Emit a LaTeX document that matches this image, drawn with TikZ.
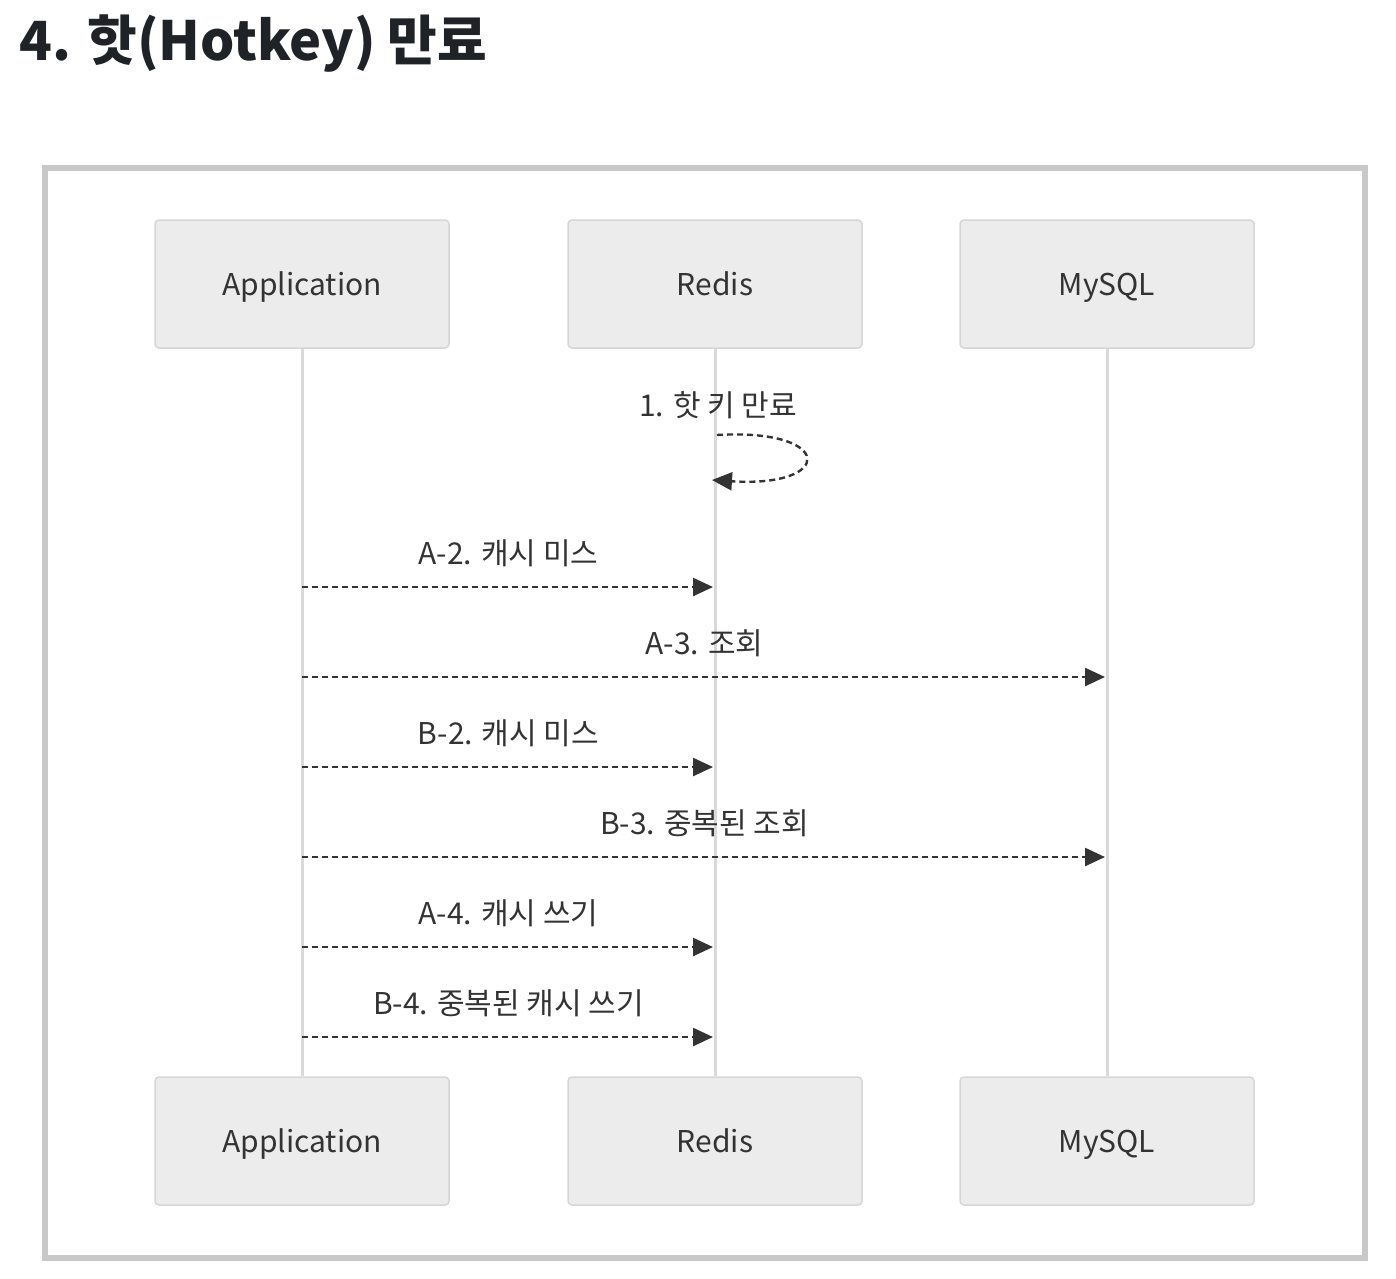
\documentclass[tikz,border=0pt]{standalone}
\usepackage{fontspec}
\setmainfont{Noto Sans CJK KR}
\newfontfamily\cjk{Noto Sans CJK KR}
\usetikzlibrary{arrows.meta}
\definecolor{frame}{HTML}{C8C8C8}
\definecolor{boxfill}{HTML}{ECECEC}
\definecolor{boxline}{HTML}{D6D6D6}
\definecolor{life}{HTML}{D9D9D9}
\definecolor{ink}{HTML}{333333}
\definecolor{title}{HTML}{1F2328}
\tikzset{
  actor/.style={draw=boxline, line width=1.5pt, fill=boxfill, rounded corners=4pt,
    minimum width=294pt, minimum height=128pt, inner sep=0pt, text=ink,
    text height=25pt, text depth=3pt,
    font=\cjk\fontsize{30}{36}\selectfont},
  lifeline/.style={draw=life, line width=3pt},
  msg/.style={draw=ink, line width=2.4pt, dash pattern=on 6pt off 4pt,
    -{Triangle[length=20pt,width=18pt]}},
  msglabel/.style={text=ink, inner sep=0pt, text height=25pt, text depth=3pt,
    font=\cjk\fontsize{30}{36}\selectfont},
}
\begin{document}
\begin{tikzpicture}[x=1pt,y=-1pt]
\useasboundingbox (0,0) rectangle (1396,1278);
\fill[white] (0,0) rectangle (1396,1278);
\node[anchor=base west, inner sep=0pt, text=title, font=\cjk\bfseries\fontsize{54}{62}\selectfont] (title) at (19,60) {4. 핫(Hotkey) 만료};
\draw[frame, line width=6pt, fill=white] (45,168) rectangle (1365,1258);
% actors
\node[actor] (appT) at (302,284) {Application};
\node[actor] (redT) at (715,284) {Redis};
\node[actor] (sqlT) at (1107,284) {MySQL};
\node[actor] (appB) at (302,1141) {Application};
\node[actor] (redB) at (715,1141) {Redis};
\node[actor] (sqlB) at (1107,1141) {MySQL};
% lifelines
\draw[lifeline] (appT.south) -- (appB.north);
\draw[lifeline] (redT.south) -- (redB.north);
\draw[lifeline] (sqlT.south) -- (sqlB.north);
% self loop
\coordinate (l1s) at (717,435);
\coordinate (l1e) at (712,480);
\node[msglabel] (m1) at (718,405) {1. 핫 키 만료};
\draw[msg] (l1s) .. controls (835,428) and (835,488) .. (l1e);
% messages
\foreach \y/\txt/\tgt [count=\i] in {
  587/A-2. 캐시 미스/715,
  677/A-3. 조회/1107,
  767/B-2. 캐시 미스/715,
  857/B-3. 중복된 조회/1107,
  947/A-4. 캐시 쓰기/715,
  1037/B-4. 중복된 캐시 쓰기/715}{
  \coordinate (s\i) at (302,\y);
  \coordinate (e\i) at ({\tgt-2},\y);
  \node[msglabel] (lab\i) at ({(302+\tgt)/2},{\y-34}) {\txt};
  \draw[msg] (s\i) -- (e\i);
}
\end{tikzpicture}
\end{document}
